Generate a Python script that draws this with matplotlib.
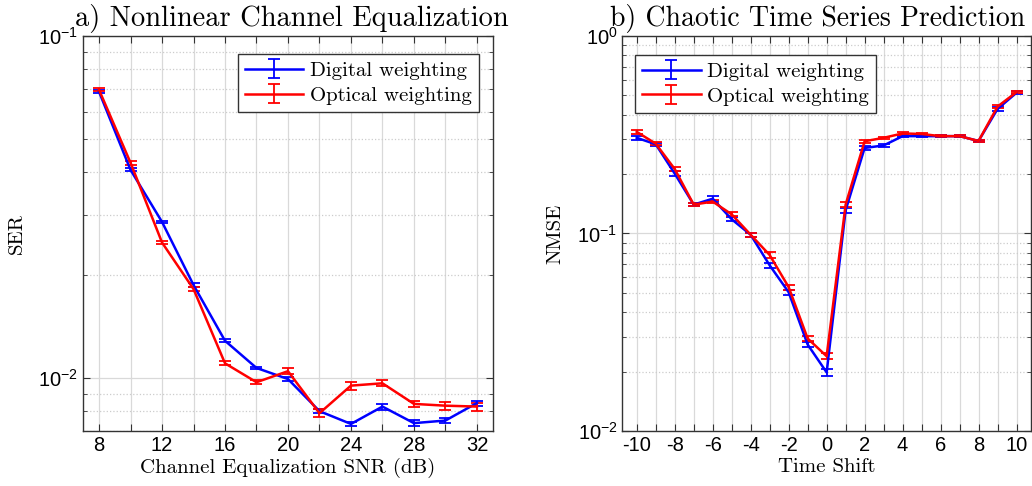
import matplotlib
matplotlib.use("Agg")
import matplotlib.pyplot as plt
from matplotlib.ticker import LogLocator, NullFormatter, FixedLocator, FuncFormatter, LogFormatterSciNotation
from matplotlib.legend_handler import HandlerErrorbar
from matplotlib.container import ErrorbarContainer

# ---- data ----
snr = [8, 10, 12, 14, 16, 18, 20, 22, 24, 26, 28, 30, 32]
ser_digital = [0.0687, 0.0406, 0.0286, 0.0187, 0.01285, 0.0107, 0.00993, 0.0080, 0.00734, 0.00825, 0.00738, 0.00751, 0.00845]
ser_digital_err = [0.0007, 0.0004, 0.0002, 0.0002, 0.00013, 0.0001, 0.00013, 0.0001, 0.0001, 0.00017, 0.00015, 0.00012, 0.00014]
ser_optical = [0.0696, 0.0426, 0.0249, 0.0182, 0.01104, 0.00972, 0.01047, 0.00789, 0.0095, 0.00965, 0.0084, 0.0083, 0.00825]
ser_optical_err = [0.0007, 0.0006, 0.0003, 0.00025, 0.00015, 0.00013, 0.0002, 0.0002, 0.00025, 0.0002, 0.00017, 0.00022, 0.00022]

shift = [-10, -9, -8, -7, -6, -5, -4, -3, -2, -1, 0, 1, 2, 3, 4, 5, 6, 7, 8, 9, 10]
nmse_digital = [0.305, 0.283, 0.201, 0.140, 0.150, 0.118, 0.0985, 0.069, 0.0504, 0.0274, 0.0198,
                0.131, 0.271, 0.279, 0.311, 0.311, 0.311, 0.311, 0.294, 0.427, 0.516]
nmse_digital_err = [0.006, 0.005, 0.005, 0.003, 0.004, 0.003, 0.002, 0.002, 0.0015, 0.0008, 0.0008,
                    0.004, 0.005, 0.004, 0.004, 0.004, 0.004, 0.004, 0.004, 0.008, 0.008]
nmse_optical = [0.327, 0.285, 0.212, 0.140, 0.145, 0.125, 0.0985, 0.0778, 0.0535, 0.0294, 0.0239,
                0.140, 0.293, 0.305, 0.321, 0.319, 0.311, 0.311, 0.294, 0.439, 0.520]
nmse_optical_err = [0.007, 0.005, 0.006, 0.003, 0.003, 0.003, 0.002, 0.003, 0.0015, 0.0008, 0.0008,
                    0.004, 0.005, 0.004, 0.004, 0.004, 0.004, 0.004, 0.004, 0.009, 0.008]

labels = ["Digital weighting", "Optical weighting"]
titles = ["a) Nonlinear Channel Equalization", "b) Chaotic Time Series Prediction"]

# ---- style ----
plt.rcParams['font.family'] = ['Liberation Sans', 'DejaVu Sans']
plt.rcParams['mathtext.default'] = 'regular'
plt.rcParams['axes.unicode_minus'] = False
SERIF = ['cmr10', 'DejaVu Serif']
BLUE = '#0000ff'
RED = '#ff0000'
GRIDC = '#d9d9d9'

fig = plt.figure(figsize=(10.32, 4.86), dpi=100)
ax1 = fig.add_axes([0.0807, 0.1132, 0.3967, 0.8128])
ax2 = fig.add_axes([0.6030, 0.1132, 0.3960, 0.8128])

def style(ax):
    ax.set_yscale('log')
    ax.tick_params(which='both', direction='in', top=True, right=True, labelsize=14.5,
                   color='#333333')
    ax.tick_params(which='major', length=5)
    ax.tick_params(which='minor', length=3)
    for s in ax.spines.values():
        s.set_color('#333333')
        s.set_linewidth(1.0)
    ax.yaxis.set_major_locator(LogLocator(base=10, numticks=10))
    ax.yaxis.set_minor_locator(LogLocator(base=10, subs=range(2, 10), numticks=20))
    ax.yaxis.set_minor_formatter(NullFormatter())
    ax.yaxis.set_major_formatter(LogFormatterSciNotation())
    ax.grid(True, which='major', axis='both', color=GRIDC, linestyle='-', linewidth=0.9)
    ax.grid(True, which='minor', axis='y', color='#cccccc', linestyle=':', linewidth=0.9)
    ax.set_axisbelow(True)

ekw = dict(linewidth=1.8, capsize=4, elinewidth=1.3, capthick=1.3)
legkw = dict(prop={'family': SERIF, 'size': 15}, fancybox=False, framealpha=1,
             edgecolor='#333333', handlelength=2.8, borderpad=0.35, labelspacing=0.3,
             handletextpad=0.3, borderaxespad=0.0,
             handler_map={ErrorbarContainer: HandlerErrorbar(xerr_size=0.5, yerr_size=0.45)})

# left
style(ax1)
ax1.errorbar(snr, ser_digital, yerr=ser_digital_err, color=BLUE, label=labels[0], **ekw)
ax1.errorbar(snr, ser_optical, yerr=ser_optical_err, color=RED, label=labels[1], **ekw)
ax1.set_xlim(7, 33)
ax1.set_ylim(0.007, 0.1)
ax1.xaxis.set_major_locator(FixedLocator(snr))
ax1.xaxis.set_major_formatter(FuncFormatter(lambda v, p: f"{int(v)}" if int(v) % 4 == 0 else ""))
ax1.set_xlabel("Channel Equalization SNR (dB)", family=SERIF, fontsize=15, labelpad=2)
ax1.set_ylabel("SER", family=SERIF, fontsize=15, labelpad=9)
ax1.set_title(titles[0], family=SERIF, fontsize=20.5, pad=7, x=0.51)
leg1 = ax1.legend(loc='upper right', bbox_to_anchor=(0.966, 0.954), **legkw)
leg1.get_frame().set_linewidth(1.0)

# right
style(ax2)
ax2.errorbar(shift, nmse_digital, yerr=nmse_digital_err, color=BLUE, label=labels[0], **ekw)
ax2.errorbar(shift, nmse_optical, yerr=nmse_optical_err, color=RED, label=labels[1], **ekw)
ax2.set_xlim(-10.76, 10.76)
ax2.set_ylim(0.01, 1)
ax2.xaxis.set_major_locator(FixedLocator(shift))
ax2.xaxis.set_major_formatter(FuncFormatter(lambda v, p: f"{int(round(v))}" if int(round(v)) % 2 == 0 else ""))
ax2.set_xlabel("Time Shift", family=SERIF, fontsize=15, labelpad=2)
ax2.set_ylabel("NMSE", family=SERIF, fontsize=15, labelpad=9)
ax2.set_title(titles[1], family=SERIF, fontsize=20, pad=7, x=0.478)
leg2 = ax2.legend(loc='upper left', bbox_to_anchor=(0.031, 0.952), **legkw)
leg2.get_frame().set_linewidth(1.0)

fig.savefig("out.png", dpi=100)
